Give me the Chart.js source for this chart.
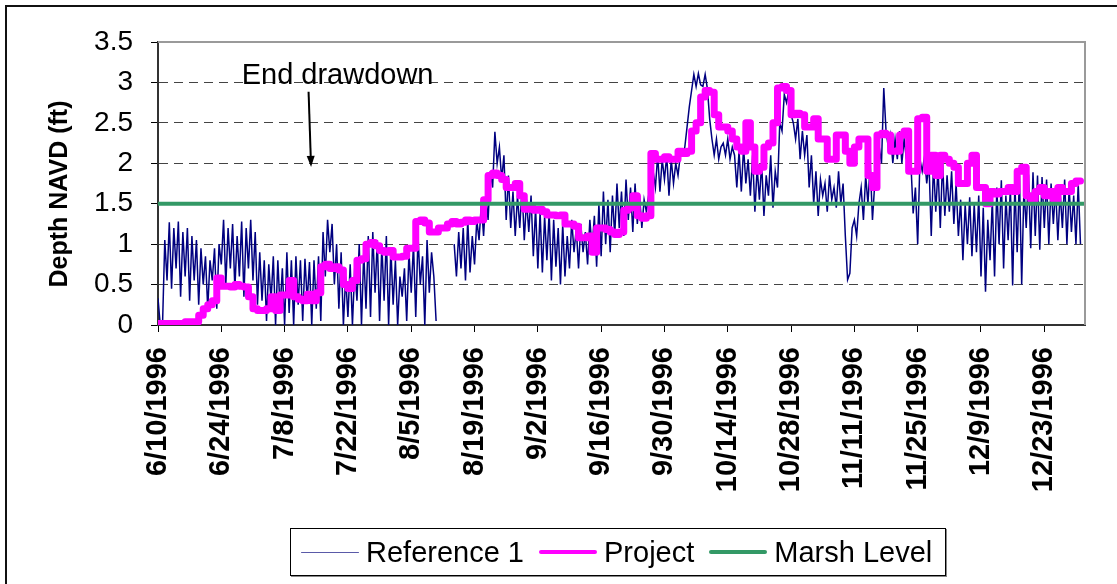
<!DOCTYPE html>
<html><head><meta charset="utf-8">
<script src="https://cdn.jsdelivr.net/npm/chart.js@4.4.1/dist/chart.umd.min.js"></script>
<style>
html,body{margin:0;padding:0;background:#fff;}
#wrap{position:relative;width:1117px;height:584px;overflow:hidden;font-family:"Liberation Sans",Arial,sans-serif;}
#frame{position:absolute;left:5px;top:5px;width:1200px;height:700px;border-left:2px solid #111;border-top:2px solid #111;}
canvas{position:absolute;left:0;top:0;}
#legend{position:absolute;left:290px;top:528px;width:656px;height:48px;border:1px solid #000;box-shadow:1px 1px 0 #888;background:#fff;display:flex;align-items:center;padding-left:10px;box-sizing:border-box;}
.item{display:flex;align-items:center;margin-right:15px;font-size:29px;color:#000;white-space:nowrap;}
.sw{width:58px;margin-right:7px;}
</style></head>
<body>
<div id="wrap">
  <div id="frame"></div>
  <canvas id="c" width="1117" height="584"></canvas>
  <div id="legend"></div>
</div>
<script>
// ---- tick labels ----
const xTickLabels = ["6/10/1996","6/24/1996","7/8/1996","7/22/1996","8/5/1996","8/19/1996","9/2/1996","9/16/1996","9/30/1996","10/14/1996","10/28/1996","11/11/1996","11/25/1996","12/9/1996","12/23/1996"];
const yTickLabels = ["0","0.5","1","1.5","2","2.5","3","3.5"];
const yTitle = "Depth NAVD (ft)";

// ---- Reference 1: two readings per day, starting 6/10/1996 ----
const ref1 = [
 0.33,0, 0,1.05, 0.55,1.27, 0.45,1.2, 0.7,1.28,
 0.35,1.15, 0.6,1.2, 0.3,1.1, 0.55,1.05, 0.25,0.95,
 0.5,0.85, 0.2,0.8, 0.55,0.95, 0.2,1.0, 0.75,1.3,
 0.5,1.2, 0.7,1.25, 0.45,1.1, 0.6,1.28, 0.35,1.2,
 0.7,1.3, 0.55,1.15, 0.25,0.9, 0.3,0.8, 0.05,0.75,
 0.3,0.85, 0,0.8, 0.2,0.7, 0,0.9, 0.15,0.8,
 0,0.85, 0.25,0.8, 0.05,0.82, 0.3,0.78, 0,0.8,
 0.2,0.85, 0.05,1.15, 0.6,1.3, 0.9,1.25, 0.5,1.0,
 0.2,0.9, 0,0.6, 0.1,0.75, 0,0.7, 0.3,1.0,
 0,0.9, 0.2,1.1, 0.1,1.15, 0.4,1.05, 0.05,1.0,
 0.3,1.1, 0,0.95, 0.25,0.8, 0,0.6, 0.35,0.7,
 0.05,0.9, 0.4,1.0, 0.1,1.1, 0.5,0.85, 0,1.05,
 0.4,0.9, 0.6,0.05, null,null, null,null, null,null,
 null,1.0, 0.6,1.15, 0.7,1.2, 0.55,1.3, 0.65,1.1,
 0.75,1.3, 1.05,1.5, 1.1,1.6, 1.3,1.9, 1.7,2.39,
 2.0,2.2, 1.8,2.1, 1.3,1.85, 1.2,1.65, 1.1,1.6,
 1.2,1.7, 1.05,1.55, 1.15,1.6, 0.85,1.45, 0.7,1.4,
 0.65,1.35, 0.8,1.4, 0.55,1.3, 0.72,1.2, 0.5,1.25,
 0.6,1.1, 0.7,1.3, 0.9,1.2, 0.7,1.25, 0.9,1.15,
 0.75,1.3, 0.95,1.35, 0.72,1.5, 0.85,1.65, 1.0,1.55,
 0.9,1.6, 1.1,1.75, 1.2,1.65, 1.1,1.8, 1.3,1.7,
 1.15,1.75, 1.25,1.6, 1.2,1.55, 1.4,1.6, 1.55,1.9,
 1.7,2.1, 1.65,2.05, 1.8,2.1, 1.6,2.05, 1.75,2.0,
 1.85,2.1, 2.1,2.2, 2.45,2.7, 2.9,3.1, 2.95,3.11,
 2.97,2.95, 3.1,2.92, 2.55,2.3, 2.1,2.3, 2.05,2.2,
 2.25,2.1, 2.3,2.05, 2.2,2.1, 1.7,2.15, 1.65,2.2,
 1.75,2.05, 1.6,2.1, 1.4,1.95, 1.55,2.0, 1.35,1.85,
 1.6,2.1, 1.45,1.9, 1.7,2.5, 2.4,2.85, 2.75,2.9,
 2.6,2.5, 2.3,2.55, 2.05,2.4, 2.1,2.35, 1.7,2.1,
 1.5,1.9, 1.35,1.8, 1.6,1.75, 1.4,1.85, 1.55,1.7,
 1.45,1.9, 1.5,1.75, 1.1,0.56, 0.64,1.2, 1.3,1.1,
 1.5,1.7, 1.3,1.85, 1.5,2.0, 1.3,1.75, 1.7,2.2,
 2.0,2.93, 2.4,2.2, 2.35,2.0, 2.3,2.05, 2.4,2.0,
 2.3,2.05, 2.4,2.0, 1.38,1.7, 1.0,2.05, 1.9,2.08,
 1.75,2.0, 1.1,2.0, 1.4,1.95, 1.2,2.04, 1.35,1.85,
 1.4,1.9, 1.25,1.75, 1.1,1.55, 0.8,1.5, 1.0,1.58,
 0.85,1.5, 0.9,1.6, 0.6,1.45, 0.41,1.3, 0.8,1.55,
 0.6,1.7, 1.0,1.79, 0.7,1.6, 1.05,1.7, 0.49,1.75,
 0.9,1.85, 0.5,1.7, 1.2,1.86, 0.95,1.89, 1.1,1.85,
 0.93,1.83, 1.2,1.8, 1.0,1.75, 1.25,1.7, 1.05,1.65,
 1.2,1.8, 1.0,1.7, 1.15,1.6, 1.0,1.75, 1.0
];

// ---- Project: one value per day, starting 6/10/1996 ----
const project = [
 0.02,0.02,0.02,0.02,0.02,0.02,0.02,0.04,0.04,0.04,
 0.12,0.2,0.25,0.3,0.58,0.48,0.48,0.47,0.5,0.48,
 0.47,0.35,0.2,0.18,0.18,0.2,0.35,0.18,0.37,0.37,
 0.55,0.35,0.32,0.3,0.38,0.3,0.4,0.72,0.75,0.7,
 0.72,0.68,0.5,0.45,0.55,0.8,0.82,1.0,1.02,0.98,
 0.92,0.9,0.92,0.84,0.84,0.85,0.95,0.95,1.28,1.3,
 1.26,1.15,1.15,1.2,1.2,1.25,1.28,1.25,1.27,1.3,
 1.28,1.3,1.3,1.55,1.85,1.88,1.85,1.8,1.7,1.7,
 1.75,1.6,1.43,1.45,1.42,1.43,1.4,1.36,1.36,1.35,
 1.36,1.25,1.25,1.22,1.08,1.08,1.1,0.9,1.2,1.2,
 1.18,1.15,1.12,1.15,1.42,1.45,1.6,1.35,1.32,1.35,
 2.12,2.05,2.05,2.08,2.05,2.05,2.15,2.12,2.15,2.4,
 2.5,2.82,2.9,2.88,2.6,2.45,2.45,2.4,2.3,2.2,
 2.15,2.5,2.2,1.9,1.95,2.2,2.25,2.5,2.93,2.95,
 2.9,2.6,2.62,2.6,2.45,2.45,2.55,2.3,2.3,2.05,
 2.05,2.35,2.35,2.15,2.0,2.2,2.3,2.3,1.85,1.7,
 2.35,2.37,2.35,2.15,2.15,2.35,2.4,1.9,1.9,2.55,
 2.57,1.9,2.1,1.85,2.1,2.05,2.0,1.95,1.75,1.75,
 2.0,2.1,1.7,1.7,1.5,1.65,1.62,1.65,1.65,1.7,
 1.65,1.9,1.95,1.6,1.55,1.65,1.7,1.6,1.65,1.55,
 1.7,1.65,1.65,1.75,1.78
];

// ---- Marsh Level ----
const marshDays = [0, 205];
const marshLevel = [1.5, 1.5];

const seriesNames = ["Reference 1", "Project", "Marsh Level"];
const annotationText = "End drawdown";
const annotationAt = {day: 18.5, value: 2.98};
const arrowFrom = {day: 33.3, value: 2.885};
const arrowTo = {day: 33.85, value: 1.955};

const FONT = '"Liberation Sans", Arial, sans-serif';

const extras = {
  id: 'extras',
  afterDraw(chart) {
    const {ctx, chartArea: a, scales: {x, y}} = chart;
    ctx.save();
    // plot-area border (top/right)
    ctx.strokeStyle = '#9a9a9a'; ctx.lineWidth = 2;
    ctx.beginPath(); ctx.moveTo(a.left, a.top); ctx.lineTo(a.right, a.top); ctx.lineTo(a.right, a.bottom); ctx.stroke();
    // y-axis title
    ctx.save();
    ctx.translate(60, 194); ctx.rotate(-Math.PI / 2);
    ctx.font = 'bold 25px ' + FONT; ctx.fillStyle = '#000'; ctx.textAlign = 'center'; ctx.textBaseline = 'middle';
    ctx.fillText(yTitle, 0, 0);
    ctx.restore();
    // annotation text
    ctx.fillStyle = '#000'; ctx.font = '29px ' + FONT; ctx.textBaseline = 'alphabetic'; ctx.textAlign = 'left';
    ctx.fillText(annotationText, x.getPixelForValue(annotationAt.day), y.getPixelForValue(annotationAt.value));
    // arrow
    const x1 = x.getPixelForValue(arrowFrom.day), y1 = y.getPixelForValue(arrowFrom.value);
    const x2 = x.getPixelForValue(arrowTo.day), y2 = y.getPixelForValue(arrowTo.value);
    const ang = Math.atan2(y2 - y1, x2 - x1), hl = 11, hw = 4;
    const bx = x2 - hl * Math.cos(ang), by = y2 - hl * Math.sin(ang);
    ctx.strokeStyle = '#000'; ctx.lineWidth = 2;
    ctx.beginPath(); ctx.moveTo(x1, y1); ctx.lineTo(bx, by); ctx.stroke();
    ctx.beginPath();
    ctx.moveTo(x2, y2);
    ctx.lineTo(bx + hw * Math.sin(ang), by - hw * Math.cos(ang));
    ctx.lineTo(bx - hw * Math.sin(ang), by + hw * Math.cos(ang));
    ctx.closePath(); ctx.fill();
    ctx.restore();
  }
};

const chart = new Chart(document.getElementById('c'), {
  type: 'line',
  data: {
    datasets: [
      { label: seriesNames[0], data: ref1.map((v, i) => ({x: i * 0.5, y: v})),
        borderColor: '#000080', borderWidth: 1.5, pointRadius: 0, spanGaps: false, order: 2, tension: 0 },
      { label: seriesNames[1], data: project.map((v, i) => ({x: i, y: v})),
        borderColor: '#FF00FF', borderWidth: 7, pointRadius: 0, order: 1, stepped: 'after',
        borderJoinStyle: 'round', borderCapStyle: 'round' },
      { label: seriesNames[2], data: marshDays.map((d, i) => ({x: d, y: marshLevel[i]})),
        borderColor: '#339966', borderWidth: 4, pointRadius: 0, order: 0 }
    ]
  },
  options: {
    responsive: false, animation: false, events: [],
    layout: { padding: { top: 42, right: 32, left: 0, bottom: 0 } },
    plugins: { legend: { display: false }, tooltip: { enabled: false } },
    scales: {
      x: {
        type: 'linear', min: 0, max: 205,
        afterFit(s) { s.height = 259; },
        afterBuildTicks(s) { s.ticks = xTickLabels.map((_, i) => ({value: i * 14})); },
        border: { color: '#333', width: 2 },
        grid: { drawOnChartArea: false, drawTicks: true, tickLength: 7, color: '#000', tickColor: '#000' },
        ticks: {
          autoSkip: false, minRotation: 90, maxRotation: 90, padding: 15, color: '#000',
          font: { family: FONT, size: 29, weight: 'bold' },
          callback: (v, i) => xTickLabels[i]
        }
      },
      y: {
        min: 0, max: 3.5,
        afterFit(s) { s.width = 158; },
        afterBuildTicks(s) { s.ticks = yTickLabels.map((_, i) => ({value: i * 0.5})); },
        border: { color: '#333', width: 2, dash: [9, 6] },
        grid: {
          drawTicks: true, tickLength: 7, tickColor: '#000', tickBorderDash: [],
          color: (c) => (c.tick && (c.tick.value === 0 || c.tick.value === 3.5)) ? 'rgba(0,0,0,0)' : '#444'
        },
        ticks: { padding: 18, color: '#000', font: { family: FONT, size: 28 }, callback: (v, i) => yTickLabels[i] },
        title: { display: false }
      }
    }
  },
  plugins: [extras]
});

// HTML legend built from datasets
const lg = document.getElementById('legend');
chart.data.datasets.forEach(ds => {
  const it = document.createElement('div'); it.className = 'item';
  const sw = document.createElement('div'); sw.className = 'sw';
  sw.style.height = (ds.borderWidth >= 4 ? 4 : 1) + 'px';
  sw.style.background = ds.borderColor === '#000080' ? '#5a5aa8' : ds.borderColor;
  sw.style.borderRadius = '2px';
  const tx = document.createElement('span'); tx.textContent = ds.label;
  it.appendChild(sw); it.appendChild(tx); lg.appendChild(it);
});
</script>
</body></html>
